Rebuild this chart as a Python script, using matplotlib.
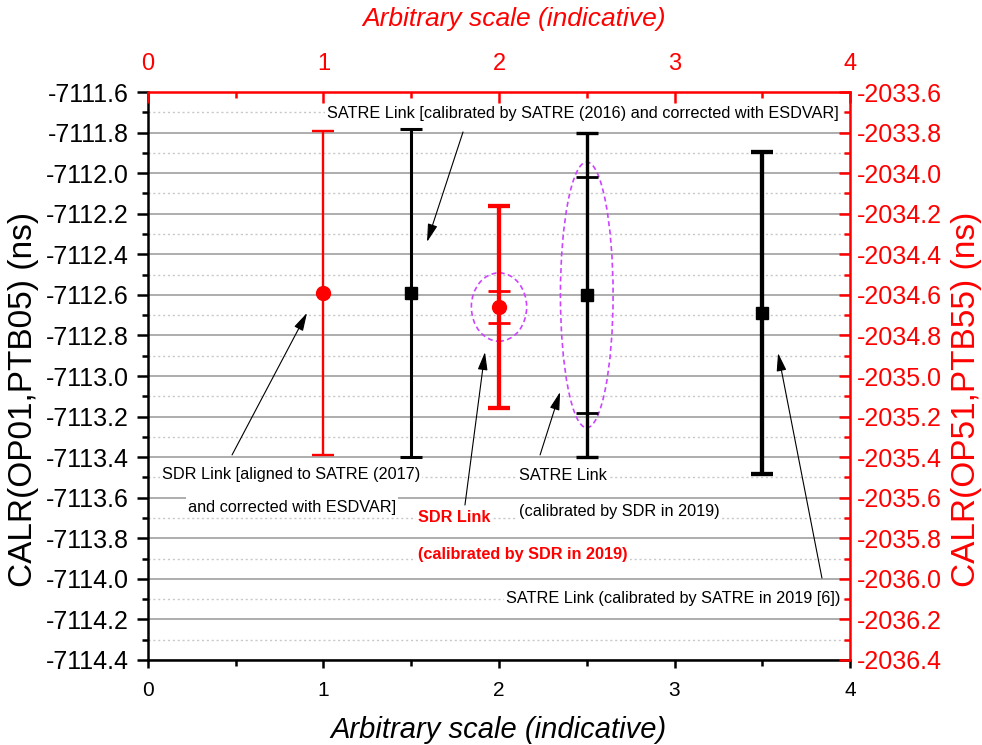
import numpy as np
import matplotlib
matplotlib.use("Agg")
from matplotlib import pyplot as plt
from matplotlib.patches import Ellipse
from matplotlib.ticker import MultipleLocator, FormatStrFormatter

plt.rcParams["font.family"] = ["Liberation Sans", "DejaVu Sans"]
plt.rcParams["axes.unicode_minus"] = False

# link results (left scale, ns)
x_pos = [1.0, 1.5, 2.0, 2.5, 3.5]
calr = [-7112.59, -7112.59, -7112.66, -7112.60, -7112.69]
unc = [0.80, 0.81, 0.50, 0.80, 0.795]
colors = ["red", "black", "red", "black", "black"]
markers = ["o", "s", "o", "s", "s"]

# inner (statistical) bars for the 2019 calibrations
inner_x = [2.0, 2.5]
inner_y = [-7112.66, -7112.60]
inner_unc = [0.08, 0.58]
inner_colors = ["red", "black"]

# dashed ellipses around the 2019 calibrations
ell_x = [2.0, 2.5]
ell_y = [-7112.66, -7112.60]
ell_w = [0.315, 0.30]
ell_h = [0.337, 1.31]

left_lim = (-7114.4, -7111.6)
right_lim = (-2036.4, -2033.6)
x_lim = (0, 4)

# annotation texts: (text, x, y, color, bold)
labels = [
    ("SATRE Link [calibrated by SATRE (2016) and corrected with ESDVAR]", 1.02, -7111.708, "black", False),
    ("SDR Link [aligned to SATRE (2017)", 0.08, -7113.488, "black", False),
    ("and corrected with ESDVAR]", 0.228, -7113.646, "black", False),
    ("SDR Link", 1.54, -7113.70, "red", True),
    ("(calibrated by SDR in 2019)", 1.54, -7113.879, "red", True),
    ("SATRE Link", 2.114, -7113.491, "black", False),
    ("(calibrated by SDR in 2019)", 2.114, -7113.669, "black", False),
    ("SATRE Link (calibrated by SATRE in 2019 [6])", 2.04, -7114.096, "black", False),
]
# arrows: (tail x, tail y, head x, head y)
arrows = [
    (1.795, -7111.797, 1.590, -7112.339),
    (0.479, -7113.389, 0.906, -7112.689),
    (1.806, -7113.636, 1.920, -7112.882),
    (2.234, -7113.389, 2.348, -7113.079),
    (3.840, -7113.996, 3.590, -7112.887),
]

fig = plt.figure(figsize=(9.82, 7.45), dpi=100)
ax = fig.add_axes([0.1507, 0.1141, 0.7149, 0.7624])

lws = [1.7, 2.2, 3.1, 2.4, 3.1]
msizes = [10, 9, 10, 9, 9]
for i in range(len(x_pos)):
    ax.errorbar(x_pos[i], calr[i], yerr=unc[i], color=colors[i], marker=markers[i],
                ms=msizes[i], elinewidth=lws[i], capsize=8, capthick=lws[i], zorder=4)
for i in range(len(inner_x)):
    ax.errorbar(inner_x[i], inner_y[i], yerr=inner_unc[i], color=inner_colors[i], fmt="none",
                elinewidth=2, capsize=8, capthick=2, zorder=4)

for i in range(len(ell_x)):
    ax.add_patch(Ellipse((ell_x[i], ell_y[i]), ell_w[i], ell_h[i], fill=False,
                         ls=(0, (3, 2)), color="#cc44ff", lw=1.2, zorder=3))

for txt, tx, ty, c, bold in labels:
    ax.text(tx, ty, txt, color=c, fontsize=11.7, fontweight="bold" if bold else "normal",
            ha="left", va="center", zorder=3,
            bbox=dict(facecolor="white", edgecolor="none", pad=1.5))

for x0, y0, x1, y1 in arrows:
    ax.annotate("", xy=(x1, y1), xytext=(x0, y0),
                arrowprops=dict(arrowstyle="-|>,head_length=1.1,head_width=0.3",
                                color="black", lw=0.8, shrinkA=0, shrinkB=0,
                                mutation_scale=10), zorder=3)

ax.set_xlim(*x_lim)
ax.set_ylim(*left_lim)
ax.yaxis.set_major_locator(MultipleLocator(0.2))
ax.yaxis.set_minor_locator(MultipleLocator(0.1))
ax.yaxis.set_major_formatter(FormatStrFormatter("%.1f"))
ax.xaxis.set_major_locator(MultipleLocator(1))
ax.xaxis.set_minor_locator(MultipleLocator(0.5))
ax.grid(which="major", axis="y", color="#a0a0a0", lw=1.2)
ax.grid(which="minor", axis="y", color="#c8c8c8", lw=1.0, ls=(0, (1.5, 2)))
ax.tick_params(axis="y", which="major", direction="out", length=8, width=1.8, pad=6, labelsize=18)
ax.tick_params(axis="y", which="minor", direction="out", length=4, width=1.8)
ax.tick_params(axis="x", which="major", direction="out", length=6, width=1.8, pad=9, labelsize=15)
ax.tick_params(axis="x", which="minor", direction="out", length=4, width=1.8)
ax.spines["top"].set_visible(False)
ax.spines["right"].set_visible(False)
ax.spines["left"].set_linewidth(1.8)
ax.spines["bottom"].set_linewidth(1.8)

ax2 = ax.twinx()
ax2.set_ylim(*right_lim)
ax2.yaxis.set_major_locator(MultipleLocator(0.2))
ax2.yaxis.set_minor_locator(MultipleLocator(0.1))
ax2.yaxis.set_major_formatter(FormatStrFormatter("%.1f"))
ax2.tick_params(axis="y", which="major", direction="in", length=8, width=1.8, pad=5,
                labelsize=18, colors="red")
ax2.tick_params(axis="y", which="minor", direction="in", length=4, width=1.8, colors="red")
for s in ["top", "left", "bottom"]:
    ax2.spines[s].set_visible(False)
ax2.spines["right"].set_color("red")
ax2.spines["right"].set_linewidth(1.8)

ax3 = ax.twiny()
ax3.set_xlim(*x_lim)
ax3.xaxis.set_major_locator(MultipleLocator(1))
ax3.xaxis.set_minor_locator(MultipleLocator(0.5))
ax3.tick_params(axis="x", which="major", direction="in", length=8, width=1.8, pad=12,
                labelsize=17, colors="red")
ax3.tick_params(axis="x", which="minor", direction="in", length=4, width=1.8, colors="red")
for s in ["right", "left", "bottom"]:
    ax3.spines[s].set_visible(False)
ax3.spines["top"].set_color("red")
ax3.spines["top"].set_linewidth(1.8)

fig.text(24 / 982, 1 - 399 / 745, "CALR(OP01,PTB05) (ns)", rotation=90, fontsize=24,
         ha="center", va="center")
fig.text(966 / 982, 1 - 399 / 745, "CALR(OP51,PTB55) (ns)", rotation=90, fontsize=24,
         ha="center", va="center", color="red")
fig.text(514 / 982, 1 - 19 / 745, "Arbitrary scale (indicative)", fontsize=19,
         style="italic", ha="center", va="center", color="red")
fig.text(499 / 982, 1 - 738 / 745, "Arbitrary scale (indicative)", fontsize=21,
         style="italic", ha="center", va="baseline")

fig.savefig("out.png", dpi=100)
